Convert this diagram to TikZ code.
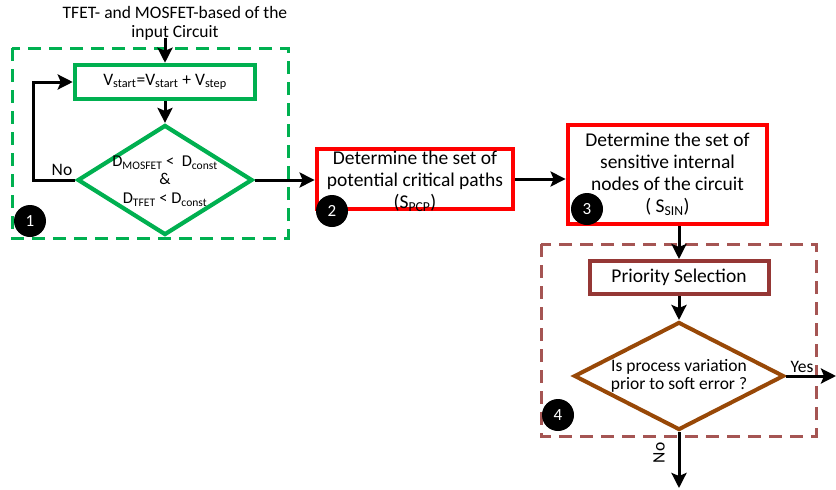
\documentclass[tikz,border=0pt]{standalone}
\usepackage{fontspec}
\setmainfont{Carlito}
\usetikzlibrary{arrows.meta,shapes.geometric}
\definecolor{grn}{RGB}{0,176,80}
\definecolor{rd}{RGB}{255,0,0}
\definecolor{brn}{RGB}{149,55,53}
\definecolor{brd}{RGB}{152,72,7}
\tikzset{
  arr/.style={draw=black, line width=3pt, -{Stealth[length=15pt,width=15pt,inset=3pt]}},
  gdash/.style={draw=grn, line width=3pt, dash pattern=on 13pt off 8pt},
  bdash/.style={draw=brn!85, line width=3pt, dash pattern=on 13pt off 8pt},
  gbox/.style={draw=grn, line width=4.5pt, rectangle, inner sep=0pt},
  rbox/.style={draw=rd, line width=4.8pt, rectangle, fill=white, inner sep=0pt, align=center, font=\fontsize{19.5}{22}\selectfont},
  pbox/.style={draw=brn, line width=4pt, rectangle, inner sep=0pt, font=\fontsize{19.5}{22}\selectfont},
  gdia/.style={draw=grn, line width=4.2pt, diamond, inner sep=0pt},
  bdia/.style={draw=brd, line width=4pt, diamond, inner sep=0pt},
  txt/.style={align=center, inner sep=0pt, font=\fontsize{17.5}{19}\selectfont},
  badge/.style={circle, fill=black, minimum size=32pt, inner sep=0pt, text=white, font=\fontsize{17}{17}\selectfont},
}
\begin{document}
\begin{tikzpicture}[x=1pt,y=-1pt]
\useasboundingbox (0,0) rectangle (836,490);
% dashed group frames
\draw[gdash] (12,48) rectangle (288,238);
\draw[bdash] (541,244) rectangle (816,436);
% title
\node[txt] (title) at (175,23) {TFET- and MOSFET-based of the\\input Circuit};
\coordinate (tin) at (165,38);
% group 1
\node[gbox, minimum width=180pt, minimum height=34pt] (vbox) at (165,82)
  {\fontsize{17.5}{19}\selectfont V\textsubscript{start}=V\textsubscript{start} + V\textsubscript{step}};
\node[gdia, minimum width=175pt, minimum height=110pt] (d1) at (165,180) {};
\node[txt, font=\fontsize{16.5}{18.5}\selectfont] (d1t) at (165,181)
  {D\textsubscript{MOSFET} <\ \ D\textsubscript{const}\\\&\\D\textsubscript{TFET} < D\textsubscript{const}};
\draw[arr] (tin) -- (vbox.north);
\draw[arr] (vbox.south) -- (d1.north);
\draw[arr] (d1.west) -- ++(-42,0) |- (vbox.west);
\node[txt] (no1) at (62,170) {No};
% box 2 and 3
\node[rbox, minimum width=196pt, minimum height=60pt] (b2) at (415,179) {};
\node[txt, font=\fontsize{19.5}{22}\selectfont] (b2t) at (415,181)
  {Determine the set of\\potential critical paths\\(S\textsubscript{PCP})};
\node[rbox, minimum width=199pt, minimum height=99pt] (b3) at (667.5,174.5)
  {Determine the set of\\sensitive internal\\nodes of the circuit\\( S\textsubscript{SIN})};
\draw[arr] (d1.east) -- (d1.east -| b2.west);
\draw[arr] (b2.east) -- (b2.east -| b3.west);
% group 4
\node[pbox, minimum width=179pt, minimum height=33pt] (pri) at (679,277.5) {Priority Selection};
\node[bdia, minimum width=210pt, minimum height=108pt] (d2) at (679,376) {};
\node[txt, font=\fontsize{17.5}{18.5}\selectfont] (d2t) at (679,376) {Is process variation\\prior to soft error ?};
\draw[arr] (b3.south -| pri.north) -- (pri.north);
\draw[arr] (pri.south) -- (d2.north);
\coordinate (yesend) at (836,376);
\coordinate (noend) at (679,488);
\draw[arr] (d2.east) -- (yesend);
\draw[arr] (d2.south) -- (noend);
\node[txt] (yes) at (802,367) {Yes};
\node[txt, rotate=90] (no2) at (659,453) {No};
% badges
\node[badge] (c1) at (30,221) {1};
\node[badge] (c2) at (332,211) {2};
\node[badge] (c3) at (587,209) {3};
\node[badge] (c4) at (558,415) {4};
\end{tikzpicture}
\end{document}
